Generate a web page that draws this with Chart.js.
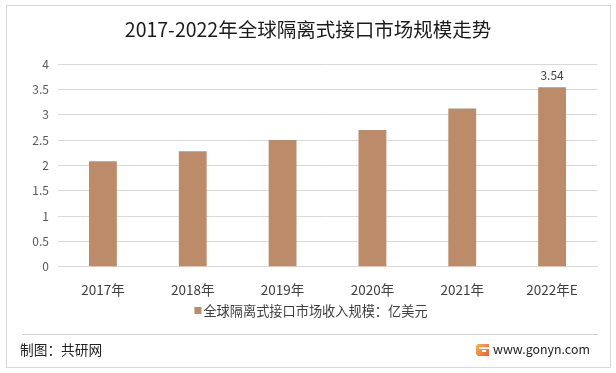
<!DOCTYPE html>
<html>
<head>
<meta charset="utf-8">
<script src="https://cdn.jsdelivr.net/npm/chart.js@4/dist/chart.umd.min.js"></script>
<style>
  html, body { margin: 0; padding: 0; background: #fff; }
  #wrap { position: relative; width: 616px; height: 373px; }
</style>
</head>
<body>
<div id="wrap"><canvas id="chartCanvas" width="616" height="373"></canvas></div>
<script>
  var years = ['2017年', '2018年', '2019年', '2020年', '2021年', '2022年E'];
  var revenue = [2.08, 2.28, 2.5, 2.7, 3.12, 3.54];
  var labelIndexes = [5];
  var yTicks = [0, 0.5, 1, 1.5, 2, 2.5, 3, 3.5, 4];
  var titleText = '2017-2022年全球隔离式接口市场规模走势';
  var seriesName = '全球隔离式接口市场收入规模：亿美元';

  var FONT = '"Noto Sans CJK SC", "Noto Sans", sans-serif';
  var BAR = '#BC8C6A';

  var decorPlugin = {
    id: 'decor',
    beforeDraw: function(chart) {
      var c = chart.ctx;
      c.save();
      c.fillStyle = '#fff';
      c.fillRect(0, 0, chart.width, chart.height);
      c.restore();
    },
    afterDraw: function(chart) {
      var c = chart.ctx;
      c.save();
      // outer frame
      c.strokeStyle = '#d9d9d9';
      c.lineWidth = 1;
      c.strokeRect(6.5, 5.5, 604, 362);
      // title
      c.fillStyle = '#1a1a1a';
      c.font = '19.5px ' + FONT;
      c.textAlign = 'center';
      c.textBaseline = 'middle';
      c.fillText(titleText, 308, 30);
      // legend
      c.font = '13.2px ' + FONT;
      var tw = c.measureText(seriesName).width;
      var lx = 311 - (tw + 9) / 2;
      c.fillStyle = BAR;
      c.fillRect(lx, 307, 7, 7);
      c.fillStyle = '#404040';
      c.textAlign = 'left';
      c.fillText(seriesName, lx + 9, 311);
      // data labels
      var meta = chart.getDatasetMeta(0);
      c.font = '12px ' + FONT;
      c.textAlign = 'center';
      c.textBaseline = 'bottom';
      labelIndexes.forEach(function(i) {
        var bar = meta.data[i];
        c.fillText(revenue[i].toFixed(2), bar.x, bar.y - 6);
      });
      // footer
      c.strokeStyle = '#d0d0d0';
      c.beginPath();
      c.moveTo(22, 334.5);
      c.lineTo(598, 334.5);
      c.stroke();
      c.fillStyle = '#222';
      c.font = '13.7px ' + FONT;
      c.textBaseline = 'middle';
      c.textAlign = 'left';
      c.fillText('制图：共研网', 20, 350);
      var g = c.createLinearGradient(476, 344, 489, 356);
      g.addColorStop(0, '#f9b64e');
      g.addColorStop(1, '#ee5a3a');
      c.fillStyle = g;
      c.beginPath();
      c.moveTo(478, 344); c.lineTo(489, 344); c.lineTo(489, 356);
      c.lineTo(478, 356); c.lineTo(476, 354); c.lineTo(476, 346);
      c.closePath();
      c.fill();
      c.fillStyle = '#fff';
      c.fillRect(479, 347, 10, 2);
      c.fillRect(482, 350, 4, 2);
      c.fillStyle = '#222';
      c.font = '12.4px ' + FONT;
      c.fillText('www.gonyn.com', 493, 349.5);
      c.restore();
    }
  };

  new Chart(document.getElementById('chartCanvas'), {
    type: 'bar',
    data: {
      labels: years,
      datasets: [{
        label: seriesName,
        data: revenue,
        backgroundColor: BAR,
        categoryPercentage: 1,
        barPercentage: 0.31
      }]
    },
    options: {
      responsive: false,
      animation: false,
      layout: { padding: { top: 64, right: 19, bottom: 60, left: 0 } },
      plugins: {
        legend: { display: false },
        title: { display: false },
        tooltip: { enabled: false }
      },
      scales: {
        x: {
          grid: { display: false, drawTicks: false },
          border: { color: '#d9d9d9' },
          ticks: { color: '#404040', font: { family: FONT, size: 13.5 }, padding: 15 }
        },
        y: {
          min: 0,
          max: 4,
          afterFit: function(s) { s.width = 58; },
          afterBuildTicks: function(s) { s.ticks = yTicks.map(function(v) { return { value: v }; }); },
          grid: { color: '#d9d9d9', drawTicks: false },
          border: { display: false },
          ticks: {
            color: '#595959',
            font: { family: FONT, size: 12 },
            padding: 9,
            callback: function(v) { return String(v); }
          }
        }
      }
    },
    plugins: [decorPlugin]
  });
</script>
</body>
</html>
